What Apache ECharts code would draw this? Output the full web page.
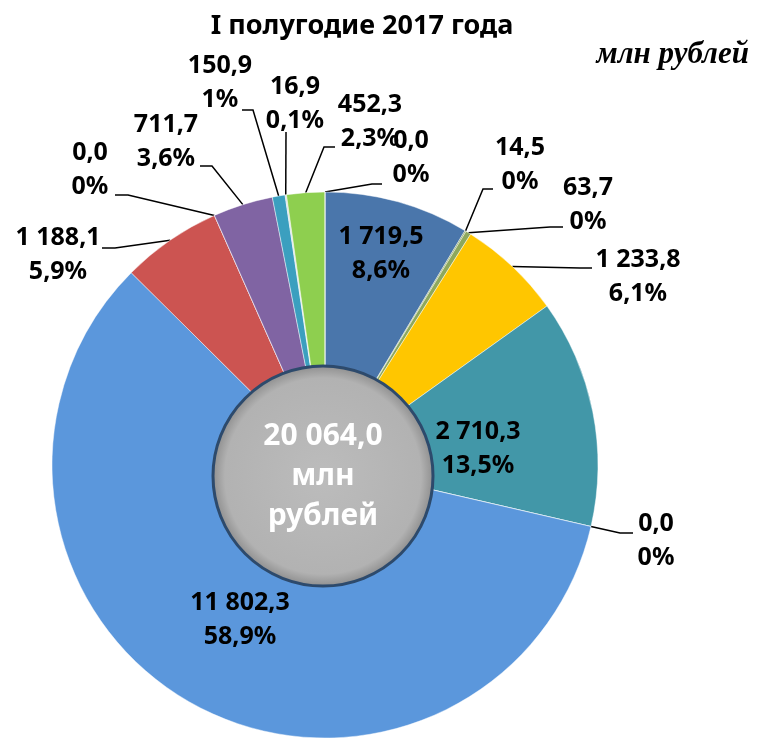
<!DOCTYPE html>
<html lang="ru">
<head>
<meta charset="UTF-8">
<title>I полугодие 2017 года</title>
<script src="https://cdn.jsdelivr.net/npm/echarts@6/dist/echarts.min.js"></script>
<style>html,body{margin:0;padding:0;background:#fff}</style>
</head>
<body>
<div id="main" style="width:758px;height:738px;"></div>
<script>
// значения, млн рублей — по часовой стрелке от 12 часов
var values = [1719.5, 14.5, 63.7, 1233.8, 2710.3, 0.0, 11802.3, 1188.1, 0.0, 711.7, 150.9, 16.9, 452.3, 0.0];
// доли, как подписаны на диаграмме
var percents = ['8,6%', '0%', '0%', '6,1%', '13,5%', '0%', '58,9%', '5,9%', '0%', '3,6%', '1%', '0,1%', '2,3%', '0%'];
var insideLabel = [true, false, false, false, true, false, true, false, false, false, false, false, false, false];
var colors = ['#4a76ab', '#7f9a4e', '#8ea85c', '#ffc600', '#4297a8', '#4297a8', '#5b97dc', '#cc5451', '#cc5451',
    '#8064a3', '#3b9fbf', '#d6dde3', '#8ecf4f', '#8ecf4f'];

// положение подписей (центр текста) и конец выноски [x, y, x излома]
var labelPos = [[381, 254], [520, 165], [588, 205], [638, 277], [478, 449], [656, 541], [240, 620],
    [58, 255], [90, 170], [166, 142], [220, 83], [295, 104], [370, 122], [411, 158]];
var lineEnd = [null, [493, 189, 483], [563, 227, 550], [592, 268, 580], null, [633, 533, 620], null,
    [102, 248, 115], [115, 195, 128], [200, 166, 212], [242, 110, 253], [286, 132, 286], [335, 147, 324], [382, 184, 372]];

var F = '"Liberation Sans Narrow", "Noto Sans", "Liberation Sans", sans-serif';
var W = 'bold condensed';

function fmt(v) {
    var s = v.toFixed(1).split('.');
    return s[0].replace(/\B(?=(\d{3})+(?!\d))/g, ' ') + ',' + s[1];
}

var total = values.reduce(function (a, b) { return a + b; }, 0);

var myChart = echarts.init(document.getElementById('main'));

var option = {
    animation: false,
    title: [{
        text: 'I полугодие 2017 года',
        left: 357,
        top: 8,
        textAlign: 'center',
        textStyle: { fontFamily: F, fontSize: 27, fontWeight: W, color: '#000' }
    }, {
        text: 'млн рублей',
        right: 4,
        top: 34,
        textStyle: { fontFamily: '"Liberation Serif", serif', fontSize: 31, fontWeight: 'bold', fontStyle: 'italic', color: '#000' }
    }],
    series: [{
        type: 'pie',
        center: [325, 465],
        radius: [95, 273],
        startAngle: 90,
        clockwise: true,
        avoidLabelOverlap: false,
        silent: true,
        itemStyle: { borderColor: 'rgba(255,255,255,0.45)', borderWidth: 1 },
        label: {
            color: '#000',
            fontFamily: F,
            fontSize: 25,
            fontWeight: W,
            lineHeight: 34,
            align: 'center',
            formatter: function (p) { return fmt(p.value) + '\n' + percents[p.dataIndex]; }
        },
        labelLine: { show: true, lineStyle: { color: '#000', width: 1.5 } },
        labelLayout: function (p) {
            var i = p.dataIndex;
            var res = { x: labelPos[i][0], y: labelPos[i][1], align: 'center', verticalAlign: 'middle' };
            var e = lineEnd[i];
            if (e && p.labelLinePoints) {
                res.labelLinePoints = [p.labelLinePoints[0], [e[2], e[1]], [e[0], e[1]]];
            }
            return res;
        },
        data: values.map(function (v, i) {
            return {
                value: v,
                itemStyle: { color: colors[i] },
                label: { position: insideLabel[i] ? 'inside' : 'outside' },
                labelLine: { show: !insideLabel[i] }
            };
        })
    }, {
        type: 'pie',
        center: [323, 476],
        radius: [0, 110],
        silent: true,
        label: {
            position: 'center',
            formatter: fmt(total) + '\nмлн\nрублей',
            color: '#fff',
            fontFamily: F,
            fontSize: 30,
            fontWeight: W,
            lineHeight: 40,
            padding: [0, 0, 12, 0]
        },
        labelLine: { show: false },
        data: [{
            value: total,
            itemStyle: {
                color: new echarts.graphic.RadialGradient(0.5, 0.5, 0.5, [
                    { offset: 0, color: '#bcbcbc' },
                    { offset: 0.88, color: '#b2b2b2' },
                    { offset: 1, color: '#8c8c8c' }
                ]),
                borderColor: '#2d4a6c',
                borderWidth: 3
            }
        }]
    }]
};

myChart.setOption(option);
</script>
</body>
</html>
